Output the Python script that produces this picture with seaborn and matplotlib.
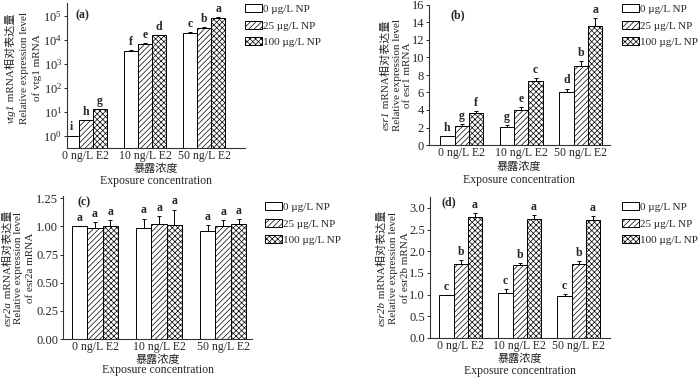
import numpy as np
import pandas as pd
import matplotlib
matplotlib.use('Agg')
import matplotlib.pyplot as plt
import matplotlib.patches as mpatches
from matplotlib.ticker import LogLocator, NullLocator, MultipleLocator, FormatStrFormatter
import seaborn as sns

# data
groups = ['0 ng/L E2', '10 ng/L E2', '50 ng/L E2']
np_levels = ['0 µg/L NP', '25 µg/L NP', '100 µg/L NP']

# vtg1 (log scale)
vtg1_mean = [[1.0, 3600, 20000], [4.3, 6900, 32000], [12.3, 15500, 85000]]
vtg1_err = [[0.0, 200, 1000], [0.2, 300, 1500], [0.4, 500, 2000]]
vtg1_let = [['i', 'f', 'c'], ['h', 'e', 'b'], ['g', 'd', 'a']]

# esr1
esr1_mean = [[1.0, 2.1, 6.1], [2.2, 4.05, 9.0], [3.6, 7.35, 13.55]]
esr1_err = [[0.0, 0.15, 0.35], [0.15, 0.3, 0.55], [0.3, 0.3, 1.0]]
esr1_let = [['h', 'g', 'd'], ['g', 'e', 'b'], ['f', 'c', 'a']]

# esr2a
esr2a_mean = [[1.0, 0.99, 0.96], [0.985, 1.025, 1.0], [1.0, 1.01, 1.025]]
esr2a_err = [[0.0, 0.08, 0.05], [0.05, 0.07, 0.06], [0.06, 0.14, 0.04]]
esr2a_let = [['a', 'a', 'a'], ['a', 'a', 'a'], ['a', 'a', 'a']]

# esr2b
esr2b_mean = [[1.0, 1.03, 0.97], [1.7, 1.68, 1.7], [2.78, 2.75, 2.73]]
esr2b_err = [[0.0, 0.1, 0.04], [0.1, 0.05, 0.07], [0.1, 0.08, 0.08]]
esr2b_let = [['c', 'c', 'c'], ['b', 'b', 'b'], ['a', 'a', 'a']]

hatches = ['', '//////', 'xxxxxx']

sns.set_style('ticks')
plt.rcParams['font.family'] = ['Liberation Serif', 'Noto Sans CJK SC']
plt.rcParams['hatch.linewidth'] = 0.5
plt.rcParams['axes.linewidth'] = 0.8
plt.rcParams['axes.edgecolor'] = '#333333'

W, H = 700, 377
fig = plt.figure(figsize=(7, 3.77), dpi=100)


def px_axes(l, t, r, b):
    return fig.add_axes([l / W, 1 - b / H, (r - l) / W, (b - t) / H])


def draw_panel(ax, means, errs, lets, log=False):
    rows = []
    for i, lev in enumerate(np_levels):
        for j, g in enumerate(groups):
            rows.append({'group': g, 'np': lev, 'val': means[i][j]})
    df = pd.DataFrame(rows)
    if log:
        ax.set_yscale('log')
    sns.barplot(data=df, x='group', y='val', hue='np', order=groups, hue_order=np_levels,
                palette=['white'] * 3, edgecolor='black', linewidth=0.7, width=0.72,
                errorbar=None, legend=False, ax=ax)
    bar_conts = list(ax.containers)
    for i, cont in enumerate(bar_conts):
        xs = []
        for p in cont.patches:
            p.set_hatch(hatches[i])
            p.set_edgecolor('black')
            xs.append(p.get_x() + p.get_width() / 2)
        xs = np.array(xs)
        m = np.array(means[i])
        e = np.array(errs[i])
        ax.errorbar(xs, m, yerr=[np.zeros_like(e), e], fmt='none', ecolor='black',
                    elinewidth=0.7, capsize=1.5, capthick=0.7)
        for x, top, l in zip(xs, m + e, lets[i]):
            ax.annotate(l, (x, top), xytext=(0, 1.5), textcoords='offset points',
                        ha='center', va='bottom', fontsize=8.5, fontweight='bold')
    ax.set_xlabel('')
    ax.set_ylabel('')
    sns.despine(ax=ax)
    ax.tick_params(axis='x', length=0, labelsize=8.5, pad=1.5)
    ax.tick_params(axis='y', direction='out', length=2.5, width=0.7, labelsize=9, pad=1)


def add_legend(x, y):
    handles = [mpatches.Patch(facecolor='white', edgecolor='black', linewidth=0.7, hatch=h)
               for h in hatches]
    fig.legend(handles, np_levels, loc='upper left', bbox_to_anchor=(x / W, 1 - y / H),
               frameon=False, fontsize=8, handlelength=1.5, handleheight=0.75,
               handletextpad=0.1, labelspacing=0.6, borderaxespad=0, borderpad=0)


def add_ylabel(gene, xs, yc):
    r = fig.canvas.get_renderer()
    t1 = fig.text(xs[0] / W, 0, gene, rotation=90, style='italic', fontsize=8,
                  ha='center', va='bottom')
    t2 = fig.text(xs[0] / W, 0, ' mRNA相对表达量', rotation=90, fontsize=8,
                  ha='center', va='bottom')
    h1 = t1.get_window_extent(r).height
    h2 = t2.get_window_extent(r).height
    y0 = (H - yc) - (h1 + h2) / 2
    t1.set_y(y0 / H)
    t2.set_y((y0 + h1) / H)
    fig.text(xs[1] / W, 1 - yc / H, 'Relative expression level', rotation=90, fontsize=8,
             ha='center', va='center')
    fig.text(xs[2] / W, 1 - yc / H, 'of ' + gene + ' mRNA', rotation=90, fontsize=8,
             ha='center', va='center')


def add_xlabel(xc, y1, y2):
    fig.text(xc / W, 1 - y1 / H, '暴露浓度', fontsize=8, ha='center', va='center', color='#222222')
    fig.text(xc / W, 1 - y2 / H, 'Exposure concentration', fontsize=8.5, ha='center', va='center')


# (a)
ax1 = px_axes(67, 3, 245, 148)
draw_panel(ax1, vtg1_mean, vtg1_err, vtg1_let, log=True)
ax1.set_ylim(0.3, 3.5e5)
ax1.yaxis.set_major_locator(LogLocator(base=10, numticks=10))
ax1.yaxis.set_minor_locator(NullLocator())
ax1.set_xlim(-0.32, 2.69)
fig.text(75 / W, 1 - 15 / H, '(a)', fontsize=8.5, fontweight='bold', va='center')
add_legend(245, 4)
add_ylabel('vtg1', [11, 25, 37], 68)
add_xlabel(156, 168.5, 180.5)

# (b)
ax2 = px_axes(429, 5, 610, 145)
draw_panel(ax2, esr1_mean, esr1_err, esr1_let)
ax2.set_ylim(0, 16)
ax2.yaxis.set_major_locator(MultipleLocator(2))
ax2.set_xlim(-0.55, 2.49)
fig.text(450 / W, 1 - 15 / H, '(b)', fontsize=8.5, fontweight='bold', va='center')
add_legend(622, 4)
add_ylabel('esr1', [386, 397, 408], 75)
add_xlabel(519, 167, 180)

# (c)
ax3 = px_axes(63, 196, 252, 339)
draw_panel(ax3, esr2a_mean, esr2a_err, esr2a_let)
ax3.set_ylim(0, 1.27)
ax3.yaxis.set_major_locator(MultipleLocator(0.25))
ax3.yaxis.set_major_formatter(FormatStrFormatter('%.2f'))
ax3.set_xlim(-0.5, 2.45)
fig.text(77 / W, 1 - 202 / H, '(c)', fontsize=8.5, fontweight='bold', va='center')
add_legend(265, 202)
add_ylabel('esr2a', [8, 19, 31], 268)
add_xlabel(158, 359.5, 370.5)

# (d)
ax4 = px_axes(430, 197, 610, 338)
draw_panel(ax4, esr2b_mean, esr2b_err, esr2b_let)
ax4.set_ylim(0, 3.25)
ax4.yaxis.set_major_locator(MultipleLocator(0.5))
ax4.yaxis.set_major_formatter(FormatStrFormatter('%.1f'))
ax4.set_xlim(-0.52, 2.53)
fig.text(442 / W, 1 - 202 / H, '(d)', fontsize=8.5, fontweight='bold', va='center')
add_legend(622, 202)
add_ylabel('esr2b', [382, 394, 405], 268)
add_xlabel(520, 359, 371)

fig.savefig('out.png', dpi=100)
